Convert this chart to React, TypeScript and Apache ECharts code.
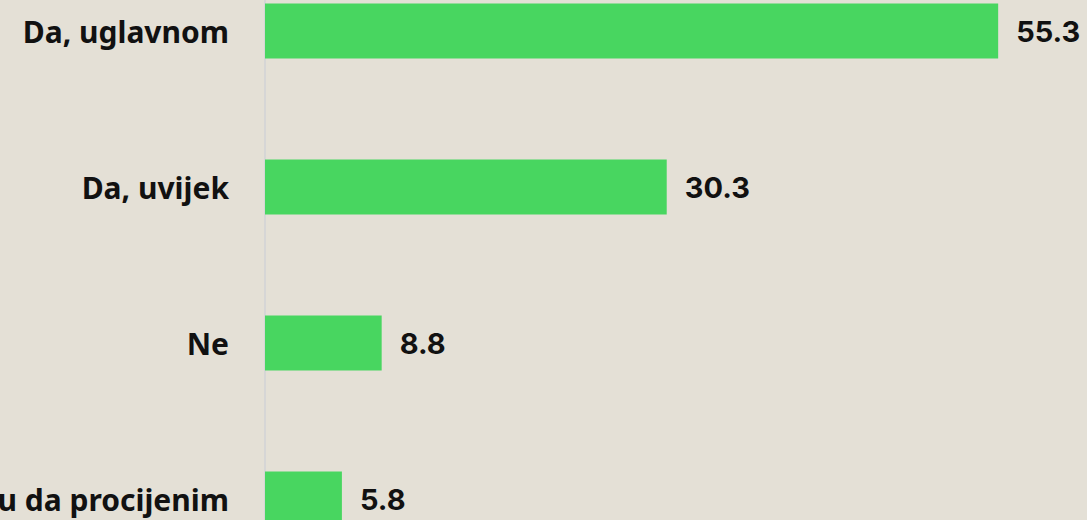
import React, { useEffect, useRef } from "react";
import * as echarts from "echarts";

const categories = ["Da, uglavnom", "Da, uvijek", "Ne", "Ne mogu da procijenim"];
const values = [55.3, 30.3, 8.8, 5.8];

export default function App() {
  const ref = useRef<HTMLDivElement>(null);
  useEffect(() => {
    if (!ref.current) return;
    const chart = echarts.init(ref.current, null, { renderer: "svg" });
    chart.setOption({
      animation: false,
      backgroundColor: "#e4e0d6",
      grid: {
        left: 265,
        right: 0,
        top: 0,
        bottom: 0,
        containLabel: false,
        outerBoundsMode: "none",
      },
      xAxis: {
        type: "value",
        min: 0,
        max: 62,
        show: false,
      },
      yAxis: {
        type: "category",
        data: categories,
        inverse: true,
        axisLine: { show: true, lineStyle: { color: "#d6d6d6", width: 2 } },
        axisTick: { show: false },
        axisLabel: {
          margin: 36,
          color: "#111111",
          fontFamily: "Noto Sans",
          fontWeight: "bold",
          fontSize: 30,
        },
      },
      series: [
        {
          type: "bar",
          data: values,
          barWidth: 55,
          itemStyle: { color: "#48d660" },
          label: {
            show: true,
            position: "right",
            distance: 18,
            color: "#111111",
            fontFamily: "Inter",
            fontWeight: "bold",
            fontSize: 29,
            formatter: (p: any) => p.value.toFixed(1),
          },
        },
      ],
    });
    return () => chart.dispose();
  }, []);
  return (
    <div style={{ position: "fixed", left: 0, top: 0, width: 1087, height: 520, overflow: "hidden" }}>
      <div
        ref={ref}
        style={{ position: "absolute", left: 0, top: -47, width: 1087, height: 624 }}
      />
    </div>
  );
}
